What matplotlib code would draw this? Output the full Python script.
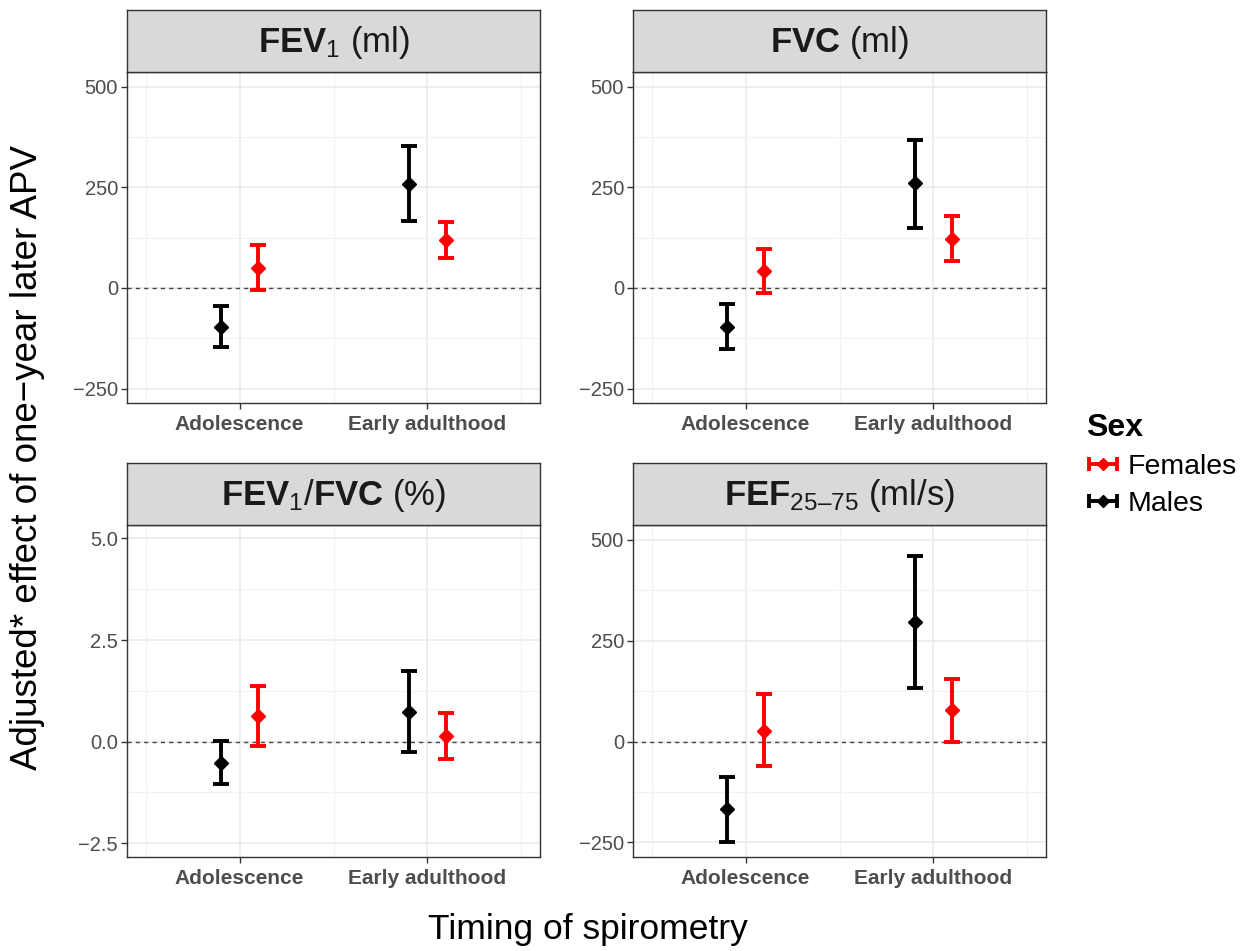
import numpy as np
import matplotlib
matplotlib.use("Agg")
import matplotlib.pyplot as plt

plt.rcParams['font.family'] = ['Liberation Sans', 'DejaVu Sans']
plt.rcParams['mathtext.fontset'] = 'custom'
plt.rcParams['mathtext.rm'] = 'Liberation Sans'
plt.rcParams['mathtext.it'] = 'Liberation Sans'
plt.rcParams['mathtext.bf'] = 'Liberation Sans:bold'

# ---------------- data ----------------
categories = ["Adolescence", "Early adulthood"]
panel_titles = [r"$\mathbf{FEV}_{1}$ (ml)",
                r"$\mathbf{FVC}$ (ml)",
                r"$\mathbf{FEV}_{1}/\mathbf{FVC}$ (%)",
                r"$\mathbf{FEF}_{25–75}$ (ml/s)"]

male_est = [[-96, 258], [-96, 260], [-0.53, 0.72], [-168, 296]]
male_lo = [[-146, 166], [-152, 150], [-1.04, -0.25], [-248, 132]]
male_hi = [[-46, 353], [-41, 368], [0.02, 1.74], [-87, 459]]

female_est = [[50, 119], [43, 123], [0.62, 0.13], [27, 79]]
female_lo = [[-5, 75], [-12, 67], [-0.12, -0.43], [-60, 0]]
female_hi = [[106, 164], [98, 179], [1.38, 0.70], [118, 156]]

y_major = [[-250, 0, 250, 500], [-250, 0, 250, 500],
           [-2.5, 0.0, 2.5, 5.0], [-250, 0, 250, 500]]
y_minor = [[-125, 125, 375], [-125, 125, 375],
           [-1.25, 1.25, 3.75], [-125, 125, 375]]
y_labels = [["\u2212250", "0", "250", "500"], ["\u2212250", "0", "250", "500"],
            ["\u22122.5", "0.0", "2.5", "5.0"], ["\u2212250", "0", "250", "500"]]
y_limits = [(-286, 537), (-286, 537), (-2.84, 5.33), (-286, 537)]

# ---------------- figure ----------------
W, H = 1259, 951
fig = plt.figure(figsize=(W / 100, H / 100), dpi=100)

def fx(px):
    return px / W

def fy(py):
    return 1 - py / H

cols = [(127, 540), (633, 1046)]
rows = [(10, 72, 403), (463, 525, 857)]

grey20 = "#333333"
grey30 = "#4D4D4D"
grid_c = "#EBEBEB"
red = "#FF0000"
dodge = 0.1
x = np.arange(1, len(categories) + 1)

for i in range(4):
    r, c = divmod(i, 2)
    x0, x1 = cols[c]
    st, sb, pb = rows[r]
    ax = fig.add_axes([fx(x0), fy(pb), fx(x1) - fx(x0), fy(sb) - fy(pb)])
    sax = fig.add_axes([fx(x0), fy(sb), fx(x1) - fx(x0), fy(st) - fy(sb)])

    # strip
    sax.set_facecolor("#D9D9D9")
    sax.set_xticks([]); sax.set_yticks([])
    for sp in sax.spines.values():
        sp.set_color(grey20); sp.set_linewidth(1.0)
    sax.text(0.5, 0.47, panel_titles[i], ha="center", va="center",
             fontsize=25, color="#1A1A1A", transform=sax.transAxes)

    # panel
    ax.set_xlim(0.4, 2.6)
    ax.set_ylim(*y_limits[i])
    ax.set_xticks(x)
    ax.set_xticklabels(categories, fontsize=15, fontweight="bold", color=grey30)
    ax.set_xticks([0.5, 1.5, 2.5], minor=True)
    ax.set_yticks(y_major[i])
    ax.set_yticklabels(y_labels[i], fontsize=14.5, color=grey30)
    ax.set_yticks(y_minor[i], minor=True)
    ax.grid(True, which="major", color=grid_c, lw=1.2, zorder=0)
    ax.grid(True, which="minor", color="#F2F2F2", lw=0.9, zorder=0)
    ax.set_axisbelow(True)
    ax.tick_params(which="major", length=4.5, width=1, color=grey20)
    ax.tick_params(axis="x", which="major", pad=4)
    ax.tick_params(axis="y", which="major", pad=2)
    ax.tick_params(which="minor", length=0)
    for sp in ax.spines.values():
        sp.set_color(grey20); sp.set_linewidth(1.0)

    ax.axhline(0, color="#444444", lw=1.0, ls=(0, (3, 3)), zorder=1)

    me = np.array(male_est[i]); ml = np.array(male_lo[i]); mh = np.array(male_hi[i])
    fe = np.array(female_est[i]); fl = np.array(female_lo[i]); fh = np.array(female_hi[i])
    ax.errorbar(x - dodge, me, yerr=[me - ml, mh - me], fmt="D", color="black",
                ms=7, lw=2.8, capsize=6, capthick=2.8, zorder=3)
    ax.errorbar(x + dodge, fe, yerr=[fe - fl, fh - fe], fmt="D", color=red,
                ms=7, lw=2.8, capsize=6, capthick=2.8, zorder=3)

# axis labels
fig.text(fx(588), fy(930), "Timing of spirometry", ha="center", va="center",
         fontsize=25.5, color="black")
fig.text(fx(28), fy(457), "Adjusted* effect of one\u2212year later APV", ha="center",
         va="center", rotation=90, fontsize=26.5, color="black")

# legend
lax = fig.add_axes([0, 0, 0.01, 0.01])
lax.set_axis_off()
hf = lax.errorbar([np.nan], [np.nan], xerr=[[1], [1]], fmt="D", color=red,
                  ms=6, lw=2.8, capsize=5, capthick=2.8)
hm = lax.errorbar([np.nan], [np.nan], xerr=[[1], [1]], fmt="D", color="black",
                  ms=6, lw=2.8, capsize=5, capthick=2.8)
leg = fig.legend([hf, hm], ["Females", "Males"], title="Sex", loc="upper left",
                 bbox_to_anchor=(fx(1086), fy(413)), frameon=False,
                 fontsize=20.5, handlelength=1.2, handletextpad=0.25,
                 labelspacing=0.39, borderaxespad=0, borderpad=0,
                 title_fontproperties={"weight": "bold", "size": 23})
leg._legend_box.align = "left"

fig.savefig("out.png", dpi=100)
